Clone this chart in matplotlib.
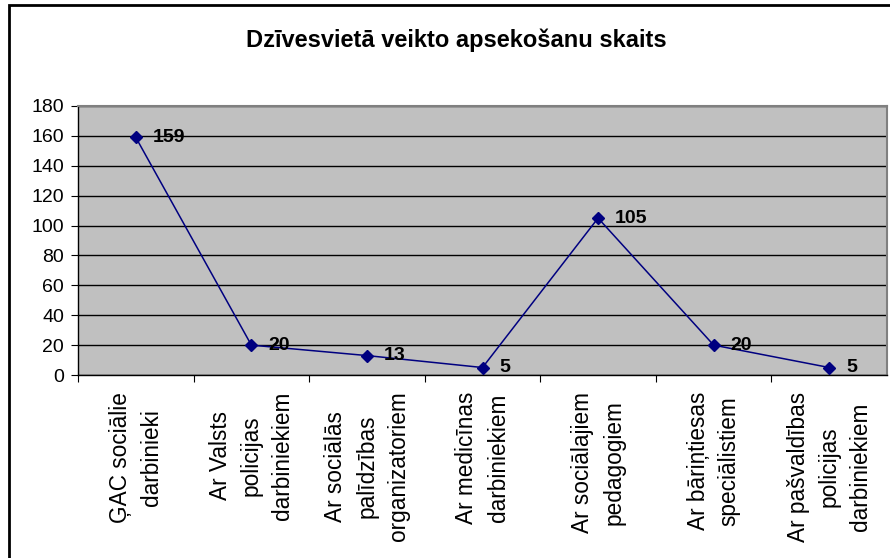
import matplotlib
matplotlib.use("Agg")
import matplotlib.pyplot as plt
from matplotlib.patches import Rectangle

plt.rcParams['font.family'] = ['Liberation Sans', 'DejaVu Sans']

title = "Dzīvesvietā veikto apsekošanu skaits"
categories = [
    "ĢAC sociālie\ndarbinieki",
    "Ar Valsts\npolicijas\ndarbiniekiem",
    "Ar sociālās\npalīdzības\norganizatoriem",
    "Ar medicīnas\ndarbiniekiem",
    "Ar sociālajiem\npedagogiem",
    "Ar bāriņtiesas\nspeciālistiem",
    "Ar pašvaldības\npolicijas\ndarbiniekiem",
]
values = [159, 20, 13, 5, 105, 20, 5]
yticks = [0, 20, 40, 60, 80, 100, 120, 140, 160, 180]

W, H = 890, 558
fig = plt.figure(figsize=(W / 100, H / 100), dpi=100)
ax = fig.add_axes([78 / W, 1 - 375 / H, (887 - 78) / W, (375 - 106) / H])
ax.set_facecolor('#C0C0C0')

x = list(range(len(categories)))
ax.plot(x, values, color='#000080', lw=1.1, marker='D', markersize=6.5,
        markerfacecolor='#000080', markeredgecolor='#000080', zorder=3)
for xi, v in zip(x, values):
    ax.annotate(str(v), (xi, v), xytext=(12, 0), textcoords='offset points',
                ha='left', va='center', fontsize=14, fontweight='bold',
                color='black', zorder=4)

ax.set_xlim(-0.5, len(categories) - 0.5)
ax.set_ylim(0, 180)
ax.set_yticks(yticks)
ax.set_yticklabels([str(t) for t in yticks], fontsize=14)
ax.yaxis.grid(True, color='black', lw=1)
ax.set_axisbelow(True)

ax.set_xticks([i + 0.5 for i in x[:-1]] + [-0.5], minor=False)
ax.set_xticklabels([])
ax.tick_params(axis='x', which='major', direction='out', length=5, color='black')
ax.tick_params(axis='y', direction='out', length=5, color='black', pad=5)
ax.set_xticks(x, minor=True)
ax.set_xticklabels(categories, minor=True, rotation=90, fontsize=16.3,
                   multialignment='center', va='top', ha='center',
                   linespacing=1.45)
ax.tick_params(axis='x', which='minor', length=0, pad=12)

for s in ['top', 'right']:
    ax.spines[s].set_color('#808080')
    ax.spines[s].set_linewidth(1.5)
for s in ['left', 'bottom']:
    ax.spines[s].set_color('black')
    ax.spines[s].set_linewidth(1)

fig.text(456 / W, 1 - 40 / H, title, ha='center', va='center',
         fontsize=17, fontweight='bold')

fig.patches.append(Rectangle((9 / W, -0.1), 1.2, 1 - 5 / H + 0.1,
                             transform=fig.transFigure, fill=False,
                             edgecolor='black', lw=2))

fig.savefig('out.png', dpi=100)
